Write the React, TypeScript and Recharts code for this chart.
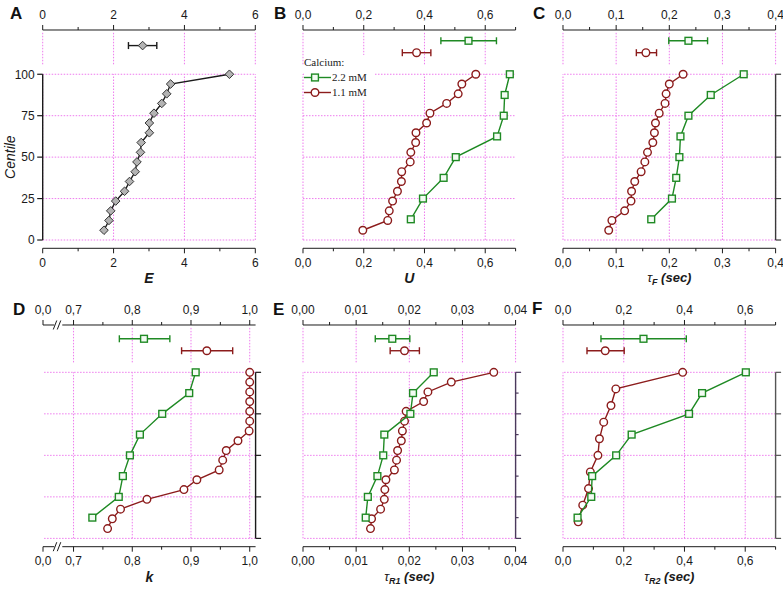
import React from 'react';
import { ComposedChart, Scatter, XAxis, YAxis, ReferenceLine, ErrorBar } from 'recharts';

const FONT = '"Liberation Sans", Arial, Helvetica, sans-serif';
const SERIF = '"Liberation Serif", "Times New Roman", serif';
const GREEN = '#1f8a24';
const RED = '#8c1c1c';
const GRID = '#ee7aee';
const INK = '#1a1a1a';

// centile levels (y values) of each cumulative series
const CENTILE_17 = [5.9, 11.8, 17.6, 23.5, 29.4, 35.3, 41.2, 47.1, 52.9, 58.8, 64.7, 70.6, 76.5, 82.4, 88.2, 94.1, 100];
const CENTILE_8 = [12.5, 25, 37.5, 50, 62.5, 75, 87.5, 100];
const CENTILE_10 = [10, 20, 30, 40, 50, 60, 70, 80, 90, 100];

// A: E
const E_VALUES = [1.73, 1.87, 1.92, 2.06, 2.31, 2.45, 2.61, 2.66, 2.76, 2.78, 3.01, 3.01, 3.14, 3.36, 3.5, 3.61, 5.27];
const E_SUMMARY = [2.42, 2.82, 3.22]; // low, mean, high

// B: U
const U_11 = [0.197, 0.279, 0.284, 0.295, 0.311, 0.324, 0.325, 0.353, 0.355, 0.371, 0.372, 0.407, 0.418, 0.473, 0.511, 0.523, 0.569];
const U_22 = [0.355, 0.395, 0.463, 0.503, 0.639, 0.661, 0.664, 0.681];
const U_SUM_22 = [0.454, 0.545, 0.637];
const U_SUM_11 = [0.327, 0.374, 0.421];

// C: tau F
const TF_11 = [0.086, 0.092, 0.116, 0.128, 0.129, 0.135, 0.147, 0.154, 0.159, 0.169, 0.172, 0.174, 0.181, 0.192, 0.194, 0.2, 0.226];
const TF_22 = [0.166, 0.205, 0.213, 0.219, 0.221, 0.236, 0.278, 0.34];
const TF_SUM_22 = [0.199, 0.236, 0.272];
const TF_SUM_11 = [0.138, 0.156, 0.176];

// D: k
const K_11 = [0.758, 0.766, 0.78, 0.825, 0.888, 0.91, 0.948, 0.954, 0.96, 0.98, 0.999, 1.0, 1.0, 1.0, 1.0, 1.0, 1.0];
const K_22 = [0.732, 0.777, 0.784, 0.796, 0.813, 0.851, 0.897, 0.908];
const K_SUM_22 = [0.778, 0.82, 0.864];
const K_SUM_11 = [0.884, 0.927, 0.971];

// E: tau R1
const TR1_11 = [0.0127, 0.0129, 0.0146, 0.0153, 0.0154, 0.0156, 0.0172, 0.0176, 0.0178, 0.0185, 0.0187, 0.0191, 0.0194, 0.0227, 0.0235, 0.0279, 0.0359];
const TR1_22 = [0.0118, 0.0122, 0.014, 0.0151, 0.0153, 0.0202, 0.0207, 0.0246];
const TR1_SUM_22 = [0.0136, 0.0168, 0.0201];
const TR1_SUM_11 = [0.0164, 0.0191, 0.0219];

// F: tau R2
const TR2_11 = [0.05, 0.065, 0.084, 0.09, 0.115, 0.12, 0.134, 0.158, 0.174, 0.394];
const TR2_22 = [0.048, 0.093, 0.096, 0.175, 0.226, 0.415, 0.458, 0.602];
const TR2_SUM_22 = [0.125, 0.265, 0.406];
const TR2_SUM_11 = [0.079, 0.139, 0.2015];

const LEGEND_LABELS = ['2.2 mM', '1.1 mM'];
const CENTILE_TICKS = [0, 25, 50, 75, 100];
const CENTILE_TICKS_FINE = [0, 12.5, 25, 37.5, 50, 62.5, 75, 87.5, 100];

type Kind = 'square' | 'circle' | 'diamond';

const colorOf = (k: Kind) => (k === 'square' ? GREEN : k === 'circle' ? RED : INK);

const marker = (kind: Kind) => (p: any) => {
  const { cx, cy } = p;
  if (cx == null || cy == null) return <g />;
  if (kind === 'square')
    return <rect x={cx - 3.4} y={cy - 3.4} width={6.8} height={6.8} fill="#f3fbf3" stroke={GREEN} strokeWidth={1.4} />;
  if (kind === 'circle') return <circle cx={cx} cy={cy} r={3.8} fill="#fff" stroke={RED} strokeWidth={1.4} />;
  return (
    <polygon
      points={`${cx},${cy - 4.3} ${cx + 4.3},${cy} ${cx},${cy + 4.3} ${cx - 4.3},${cy}`}
      fill="#b3b3b3"
      stroke="#333"
      strokeWidth={1}
    />
  );
};

const comma = (digits: number) => (v: number) => v.toFixed(digits).replace('.', ',');

type PanelDef = {
  letter: string;
  plotLeft: number;
  plotTop: number;
  plotH: number;
  yTop: number;
  domain: [number, number];
  majors: number[];
  minors: number[];
  breakAt?: number;
  fmt: (v: number) => string;
  vgrid: number[];
  yAxis: 'left' | 'right' | 'none';
  rightTicks?: number[];
  rightStroke?: string;
  title: (x: number, y: number) => React.ReactNode;
  series: { name: string; xs: number[]; ys: number[]; kind: Kind }[];
  summaries: { name: string; stats: number[]; kind: Kind; row: number }[];
};

const PLOT_W = 212.6;
const TOP_H = 28;
const BOTTOM_H = 50;
const ROW_22 = 120.2;
const ROW_11 = 113;
const ROW_ONE = 117.3;

const Letter = (t: string) => (x: number, y: number) => (
  <text x={x} y={y + 35} textAnchor="middle" fontFamily={FONT} fontSize={14} fontWeight="bold" fontStyle="italic" fill={INK}>
    {t}
  </text>
);

const Tau = (sub: string) => (x: number, y: number) => (
  <text x={x} y={y + 34} textAnchor="middle" fontFamily={FONT} fontSize={13} fontWeight="bold" fontStyle="italic" fill={INK}>
    <tspan fontWeight="normal">τ</tspan>
    <tspan fontSize={9} dy={3}>
      {sub}
    </tspan>
    <tspan dy={-3}> (sec)</tspan>
  </text>
);

function xTick(orient: 'top' | 'bottom', d: PanelDef) {
  return (p: any) => {
    const { x, y } = p;
    const v = p.payload.value as number;
    const dir = orient === 'top' ? -1 : 1;
    if (d.breakAt !== undefined && Math.abs(v - d.breakAt) < 1e-9) {
      return (
        <g>
          <rect x={x - 4} y={y - 2} width={8} height={4} fill="#fff" />
          <line x1={x - 5} y1={y + 4.5} x2={x - 1.5} y2={y - 4.5} stroke={INK} />
          <line x1={x - 1} y1={y + 4.5} x2={x + 2.5} y2={y - 4.5} stroke={INK} />
        </g>
      );
    }
    const major = d.majors.some((m) => Math.abs(m - v) < 1e-9);
    return (
      <g>
        <line x1={x} y1={y} x2={x} y2={y + dir * (major ? 5 : 3)} stroke={INK} />
        {major && (
          <text x={x} y={orient === 'top' ? y - 10.5 : y + 18.5} textAnchor="middle" fontFamily={FONT} fontSize={12} fill={INK}>
            {d.fmt(v)}
          </text>
        )}
      </g>
    );
  };
}

function yTick(side: 'left' | 'right', stroke: string) {
  return (p: any) => {
    const { x, y } = p;
    const v = p.payload.value as number;
    const minor = v % 25 !== 0;
    const len = minor ? 3 : 5.5;
    if (side === 'left')
      return (
        <g>
          <line x1={x - len} y1={y} x2={x} y2={y} stroke={INK} strokeWidth={1.2} />
          <text x={x - 8} y={y + 4.3} textAnchor="end" fontFamily={FONT} fontSize={12} fill={INK}>
            {v}
          </text>
        </g>
      );
    return <line x1={x} y1={y} x2={x + len} y2={y} stroke={stroke} strokeWidth={1.2} />;
  };
}

function Panel({ d }: { d: PanelDef }) {
  const leftW = d.yAxis === 'left' ? 40 : 0;
  const mLeft = d.yAxis === 'left' ? 2.7 : 20;
  const rightW = d.yAxis === 'right' ? 10 : 0;
  const mRight = d.yAxis === 'right' ? 12 : 20;
  const width = mLeft + leftW + PLOT_W + rightW + mRight;
  const height = TOP_H + d.plotH + BOTTOM_H;
  const left = d.plotLeft - leftW - mLeft;
  const top = d.plotTop - TOP_H;
  const ticks = [...d.majors, ...d.minors, ...(d.breakAt !== undefined ? [d.breakAt] : [])].sort((a, b) => a - b);
  const yDomain: [number, number] = [-5, d.yTop];
  const axisStroke = d.rightStroke ?? INK;
  const gridProps = { xAxisId: 'bottom', yAxisId: 'y', stroke: GRID, strokeDasharray: '1.5 1.5', strokeWidth: 1, ifOverflow: 'visible' as const };

  return (
    <div style={{ position: 'absolute', left, top, width, height }}>
      <ComposedChart width={width} height={height} margin={{ top: 0, right: mRight, bottom: 0, left: mLeft }}>
        <XAxis
          xAxisId="top"
          orientation="top"
          type="number"
          dataKey="x"
          domain={d.domain}
          allowDataOverflow
          ticks={ticks}
          interval={0}
          height={TOP_H}
          tickSize={0}
          tickMargin={0}
          tickLine={false}
          axisLine={{ stroke: INK }}
          tick={xTick('top', d)}
        />
        <XAxis
          xAxisId="bottom"
          orientation="bottom"
          type="number"
          dataKey="x"
          domain={d.domain}
          allowDataOverflow
          ticks={ticks}
          interval={0}
          height={BOTTOM_H}
          tickSize={0}
          tickMargin={0}
          tickLine={false}
          axisLine={{ stroke: INK }}
          tick={xTick('bottom', d)}
          label={(p: any) => {
            const vb = p.viewBox || {};
            return <g>{d.title(vb.x + vb.width / 2, vb.y)}</g>;
          }}
        />
        <YAxis
          yAxisId="y"
          type="number"
          dataKey="y"
          domain={yDomain}
          allowDataOverflow
          hide={d.yAxis === 'none'}
          orientation={d.yAxis === 'right' ? 'right' : 'left'}
          width={d.yAxis === 'left' ? leftW : rightW}
          ticks={d.yAxis === 'left' ? CENTILE_TICKS : d.rightTicks ?? CENTILE_TICKS}
          interval={0}
          tickSize={0}
          tickMargin={0}
          tickLine={false}
          axisLine={false}
          tick={yTick(d.yAxis === 'left' ? 'left' : 'right', axisStroke)}
          label={
            d.yAxis === 'left'
              ? (p: any) => {
                  const vb = p.viewBox || {};
                  const cy = vb.y + (vb.height * (d.yTop - 50)) / (d.yTop + 5);
                  const cx = 15.5 - left;
                  return (
                    <text x={cx} y={cy} transform={`rotate(-90, ${cx}, ${cy})`} textAnchor="middle" fontFamily={FONT} fontSize={14} fontStyle="italic" fill={INK}>
                      Centile
                    </text>
                  );
                }
              : undefined
          }
        />

        {d.vgrid.map((v) => (
          <ReferenceLine key={`va${v}`} {...gridProps} segment={[{ x: v, y: 0 }, { x: v, y: 100 }]} />
        ))}
        {d.vgrid.map((v) => (
          <ReferenceLine key={`vb${v}`} {...gridProps} segment={[{ x: v, y: 106 }, { x: v, y: d.yTop - 1.3 }]} />
        ))}
        {CENTILE_TICKS.map((v) => (
          <ReferenceLine key={`h${v}`} {...gridProps} y={v} />
        ))}
        {d.yAxis === 'left' && (
          <ReferenceLine xAxisId="bottom" yAxisId="y" ifOverflow="visible" stroke={INK} strokeWidth={1.4}
            segment={[{ x: d.domain[0], y: 0 }, { x: d.domain[0], y: 100 }]} />
        )}
        {d.yAxis === 'right' && (
          <ReferenceLine xAxisId="bottom" yAxisId="y" ifOverflow="visible" stroke={axisStroke} strokeWidth={1.4}
            segment={[{ x: d.domain[1], y: 0 }, { x: d.domain[1], y: 100 }]} />
        )}

        {d.series.map((s) => (
          <Scatter
            key={s.name}
            name={s.name}
            xAxisId="bottom"
            yAxisId="y"
            data={s.xs.map((x, i) => ({ x, y: s.ys[i] }))}
            fill={colorOf(s.kind)}
            stroke={colorOf(s.kind)}
            line={{ stroke: colorOf(s.kind), strokeWidth: 1.4 }}
            shape={marker(s.kind)}
            isAnimationActive={false}
          />
        ))}
        {d.summaries.map((s) => (
          <Scatter
            key={s.name}
            name={s.name}
            xAxisId="bottom"
            yAxisId="y"
            data={[{ x: s.stats[1], y: s.row, err: [s.stats[1] - s.stats[0], s.stats[2] - s.stats[1]] }]}
            fill={colorOf(s.kind)}
            shape={marker(s.kind)}
            isAnimationActive={false}
          >
            <ErrorBar dataKey="err" direction="x" width={3.5} stroke={colorOf(s.kind)} strokeWidth={1.4} isAnimationActive={false} />
          </Scatter>
        ))}
      </ComposedChart>
    </div>
  );
}

const TOP_ROW = { plotTop: 30, plotH: 218.3, yTop: 126.7 };
const BOTTOM_ROW = { plotTop: 325, plotH: 221.7, yTop: 128.5 };

const PANELS: PanelDef[] = [
  {
    letter: 'A', plotLeft: 42.7, ...TOP_ROW, domain: [0, 6], majors: [0, 2, 4, 6], minors: [1, 3, 5],
    fmt: (v) => String(v), vgrid: [0, 2, 4, 6], yAxis: 'left', title: Letter('E'),
    series: [{ name: 'E', xs: E_VALUES, ys: CENTILE_17, kind: 'diamond' }],
    summaries: [{ name: 'E mean', stats: E_SUMMARY, kind: 'diamond', row: ROW_ONE }],
  },
  {
    letter: 'B', plotLeft: 302.7, ...TOP_ROW, domain: [0, 0.7], majors: [0, 0.2, 0.4, 0.6], minors: [0.1, 0.3, 0.5, 0.7],
    fmt: comma(1), vgrid: [0, 0.2, 0.4, 0.6], yAxis: 'none', title: Letter('U'),
    series: [
      { name: 'U 1.1', xs: U_11, ys: CENTILE_17, kind: 'circle' },
      { name: 'U 2.2', xs: U_22, ys: CENTILE_8, kind: 'square' },
    ],
    summaries: [
      { name: 'U mean 2.2', stats: U_SUM_22, kind: 'square', row: ROW_22 },
      { name: 'U mean 1.1', stats: U_SUM_11, kind: 'circle', row: ROW_11 },
    ],
  },
  {
    letter: 'C', plotLeft: 562.7, ...TOP_ROW, domain: [0, 0.4], majors: [0, 0.1, 0.2, 0.3, 0.4], minors: [0.05, 0.15, 0.25, 0.35],
    fmt: comma(1), vgrid: [0, 0.1, 0.2, 0.3, 0.4], yAxis: 'right', rightStroke: '#3a3a3a', title: Tau('F'),
    series: [
      { name: 'TF 1.1', xs: TF_11, ys: CENTILE_17, kind: 'circle' },
      { name: 'TF 2.2', xs: TF_22, ys: CENTILE_8, kind: 'square' },
    ],
    summaries: [
      { name: 'TF mean 2.2', stats: TF_SUM_22, kind: 'square', row: ROW_22 },
      { name: 'TF mean 1.1', stats: TF_SUM_11, kind: 'circle', row: ROW_11 },
    ],
  },
  {
    letter: 'D', plotLeft: 42.7, ...BOTTOM_ROW, domain: [0.648, 1.01], majors: [0.648, 0.7, 0.8, 0.9, 1.0], minors: [0.75, 0.85, 0.95],
    breakAt: 0.674, fmt: (v) => (v < 0.69 ? '0,0' : comma(1)(v)), vgrid: [0.7, 0.8, 0.9, 1.0], yAxis: 'right', rightStroke: INK,
    title: Letter('k'),
    series: [
      { name: 'k 1.1', xs: K_11, ys: CENTILE_17, kind: 'circle' },
      { name: 'k 2.2', xs: K_22, ys: CENTILE_8, kind: 'square' },
    ],
    summaries: [
      { name: 'k mean 2.2', stats: K_SUM_22, kind: 'square', row: ROW_22 },
      { name: 'k mean 1.1', stats: K_SUM_11, kind: 'circle', row: ROW_11 },
    ],
  },
  {
    letter: 'E', plotLeft: 302.7, ...BOTTOM_ROW, domain: [0, 0.04], majors: [0, 0.01, 0.02, 0.03, 0.04],
    minors: [0.005, 0.015, 0.025, 0.035], fmt: comma(2), vgrid: [0, 0.01, 0.02, 0.03, 0.04], yAxis: 'right',
    rightStroke: '#4a3a5c', rightTicks: CENTILE_TICKS_FINE, title: Tau('R1'),
    series: [
      { name: 'TR1 1.1', xs: TR1_11, ys: CENTILE_17, kind: 'circle' },
      { name: 'TR1 2.2', xs: TR1_22, ys: CENTILE_8, kind: 'square' },
    ],
    summaries: [
      { name: 'TR1 mean 2.2', stats: TR1_SUM_22, kind: 'square', row: ROW_22 },
      { name: 'TR1 mean 1.1', stats: TR1_SUM_11, kind: 'circle', row: ROW_11 },
    ],
  },
  {
    letter: 'F', plotLeft: 562.7, ...BOTTOM_ROW, domain: [0, 0.7], majors: [0, 0.2, 0.4, 0.6], minors: [0.1, 0.3, 0.5, 0.7],
    fmt: comma(1), vgrid: [0, 0.2, 0.4, 0.6], yAxis: 'right', rightStroke: '#555', title: Tau('R2'),
    series: [
      { name: 'TR2 1.1', xs: TR2_11, ys: CENTILE_10, kind: 'circle' },
      { name: 'TR2 2.2', xs: TR2_22, ys: CENTILE_8, kind: 'square' },
    ],
    summaries: [
      { name: 'TR2 mean 2.2', stats: TR2_SUM_22, kind: 'square', row: ROW_22 },
      { name: 'TR2 mean 1.1', stats: TR2_SUM_11, kind: 'circle', row: ROW_11 },
    ],
  },
];

const LETTER_POS: Record<string, [number, number]> = {
  A: [10, 19], B: [274, 19], C: [533, 19], D: [13, 314.5], E: [273, 314.5], F: [532, 314],
};

function CalciumLegend() {
  const kinds: Kind[] = ['square', 'circle'];
  return (
    <div
      style={{
        position: 'absolute', left: 304, top: 54.5, background: '#fff', fontFamily: SERIF, fontSize: 11,
        color: '#222', lineHeight: '15px', paddingRight: 8,
      }}
    >
      <div>Calcium:</div>
      {LEGEND_LABELS.map((label, i) => (
        <div key={label} style={{ display: 'flex', alignItems: 'center', height: 15 }}>
          <svg width={27} height={15} style={{ display: 'block' }}>
            <line x1={0} y1={7.5} x2={27} y2={7.5} stroke={colorOf(kinds[i])} strokeWidth={1.4} />
            {marker(kinds[i])({ cx: 11, cy: 7.5 })}
          </svg>
          <span style={{ marginLeft: 1 }}>{label}</span>
        </div>
      ))}
    </div>
  );
}

export default function App() {
  return (
    <div style={{ position: 'absolute', left: 0, top: 0, width: 783, height: 589, background: '#fff', overflow: 'hidden' }}>
      {PANELS.map((d) => (
        <Panel key={d.letter} d={d} />
      ))}
      <CalciumLegend />
      <svg width={783} height={589} style={{ position: 'absolute', left: 0, top: 0, pointerEvents: 'none' }}>
        {PANELS.map((d) => (
          <text key={d.letter} x={LETTER_POS[d.letter][0]} y={LETTER_POS[d.letter][1]} fontFamily={FONT} fontSize={17} fontWeight="bold" fill="#111">
            {d.letter}
          </text>
        ))}
      </svg>
    </div>
  );
}
